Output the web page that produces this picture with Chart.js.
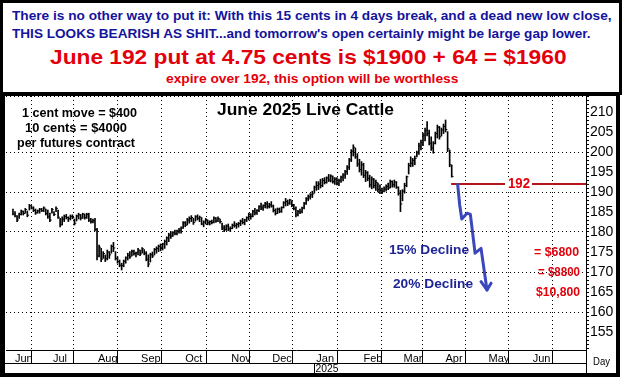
<!DOCTYPE html>
<html>
<head>
<meta charset="utf-8">
<script src="https://cdn.jsdelivr.net/npm/chart.js@4.4.1/dist/chart.umd.min.js"></script>
<style>
  body { margin: 0; background: #fff; font-family: "Liberation Sans", Arial, sans-serif; }
  #wrap { position: relative; width: 622px; height: 384px; overflow: hidden; }
  #chart { position: absolute; left: 0; top: 0; }
  #hdr { position: absolute; left: 0; top: 0; width: 622px; height: 95px; box-sizing: border-box; border: 3px solid #000; background: #fff; }
  #frame { position: absolute; left: 0; top: 93px; width: 620px; height: 284px; box-sizing: border-box; border-style: solid; border-color: #000; border-width: 3px 4px 4px 5px; pointer-events: none; }
  .ln { position: absolute; white-space: nowrap; font-weight: bold; line-height: 1; transform-origin: 0 50%; }
</style>
</head>
<body>
<div id="wrap">
  <canvas id="chart" width="622" height="384"></canvas>
  <div id="frame"></div>
  <div id="hdr"></div>
  <div class="ln" data-w="600" style="left:12px;top:10px;font-size:12.5px;color:#14149c">There is no other way to put it: With this 15 cents in 4 days break, and a dead new low close,</div>
  <div class="ln" data-w="578" style="left:12px;top:28px;font-size:12.5px;color:#14149c">THIS LOOKS BEARISH AS SHIT...and tomorrow's open certainly might be large gap lower.</div>
  <div class="ln" data-w="516" style="left:50px;top:46px;font-size:21px;color:#e3000b">June 192 put at 4.75 cents is $1900 + 64 = $1960</div>
  <div class="ln" data-w="292" style="left:166px;top:73px;font-size:12.5px;color:#e3000b">expire over 192, this option will be worthless</div>
</div>
<script>
// June 2025 live cattle, daily bars (index = trading day from early June 2024)
const highs = [
  185.75, 185.1, 184.1, 184.7, 185.5, 185.25, 185.9, 185.25, 186.9, 186.6,
  186.3, 185.75, 185.5, 185.9, 185.9, 186.3, 185.75, 185.5, 184.7, 185.9,
  185.1, 186.3, 185.5, 183.4, 183.8, 184.25, 184.4, 183.8, 184.25, 184.3,
  183.25, 184.25, 184.7, 184.4, 184.7, 184.5, 184.7, 184.7, 183.4, 183.2,
  183.4, 180.9, 176.75, 175.9, 175.1, 174.25, 175.5, 175.1, 176.75, 177.4,
  175.1, 173.8, 173.0, 172.2, 173.0, 173.8, 174.7, 175.1, 175.5, 175.5,
  175.0, 175.9, 175.5, 176.1, 175.6, 175.1, 174.3, 174.7, 175.0, 175.9,
  176.3, 176.75, 177.0, 177.2, 178.0, 178.8, 179.7, 180.1, 180.1, 180.5,
  180.5, 180.9, 181.3, 182.6, 182.6, 183.4, 183.8, 184.1, 183.4, 184.1,
  184.3, 184.0, 183.6, 182.8, 183.4, 183.0, 182.8, 183.0, 183.8, 183.6,
  183.8, 183.2, 182.2, 181.6, 181.8, 182.0, 181.3, 182.0, 182.6, 182.2,
  182.4, 183.0, 183.4, 183.2, 183.8, 184.7, 184.6, 185.4, 185.9, 185.6,
  186.6, 187.2, 186.8, 187.4, 187.6, 187.2, 187.6, 186.75, 185.8, 186.0,
  186.0, 186.3, 187.6, 188.4, 188.0, 188.2, 187.8, 186.9, 186.3, 185.4,
  185.7, 186.2, 187.4, 188.6, 189.25, 189.6, 190.2, 191.5, 192.6, 192.6,
  193.2, 193.4, 193.6, 193.8, 194.4, 194.3, 194.0, 193.6, 193.6, 193.2,
  194.0, 194.6, 195.4, 196.6, 198.4, 200.6, 201.8, 201.0, 199.6, 198.2,
  197.6, 197.2, 195.4, 195.1, 194.2, 193.8, 193.4, 193.0, 192.2, 191.8,
  191.0, 191.3, 191.8, 192.2, 193.0, 192.8, 193.0, 192.6, 191.3, 190.4,
  190.6, 192.2, 194.0, 197.2, 198.8, 198.4, 199.0, 200.2, 202.2, 203.0,
  204.7, 206.0, 207.6, 205.5, 203.8, 202.6, 205.0, 206.75, 206.4, 206.0,
  207.0, 208.0, 205.1, 200.5, 196.75
];
const lows = [
  184.25, 183.8, 182.6, 183.4, 184.25, 184.25, 184.7, 183.8, 185.5, 185.75,
  185.1, 184.4, 184.7, 184.7, 185.1, 185.1, 184.25, 183.4, 182.6, 184.7,
  184.1, 185.1, 183.4, 181.3, 181.75, 182.6, 183.25, 182.6, 183.0, 183.3,
  181.75, 182.75, 183.25, 183.0, 183.4, 183.2, 183.4, 182.6, 182.2, 182.3,
  180.25, 173.0, 173.8, 172.6, 173.4, 172.6, 173.0, 173.4, 174.7, 175.1,
  173.0, 172.2, 171.3, 170.5, 171.3, 172.2, 173.0, 173.4, 174.0, 174.2,
  173.8, 174.3, 174.1, 174.7, 174.3, 172.8, 171.3, 172.5, 173.6, 174.25,
  174.7, 175.1, 175.3, 175.5, 175.9, 176.75, 177.6, 178.4, 178.9, 179.25,
  179.25, 179.7, 179.7, 180.9, 181.3, 181.75, 182.2, 182.6, 181.9, 182.7,
  183.0, 182.6, 181.8, 181.3, 182.0, 181.8, 181.75, 182.0, 182.3, 182.4,
  182.6, 182.2, 180.6, 180.1, 180.4, 180.3, 180.1, 180.8, 181.2, 180.9,
  181.2, 181.6, 182.0, 181.8, 182.6, 183.0, 183.2, 183.8, 184.25, 184.4,
  185.1, 185.6, 185.4, 186.0, 185.9, 186.0, 186.2, 185.0, 184.25, 184.6,
  184.8, 184.9, 186.0, 186.5, 186.6, 186.9, 186.3, 185.5, 183.8, 184.0,
  184.6, 184.8, 185.8, 186.9, 187.8, 188.2, 188.6, 189.7, 190.4, 190.6,
  191.0, 191.3, 192.0, 192.2, 192.6, 192.5, 192.2, 191.9, 191.8, 191.6,
  192.4, 192.8, 193.4, 194.4, 195.6, 197.6, 199.0, 198.4, 196.4, 195.0,
  194.2, 193.6, 192.6, 192.8, 191.2, 190.8, 191.0, 190.4, 190.0, 189.6,
  189.6, 190.0, 190.2, 190.6, 191.0, 191.2, 191.2, 190.9, 189.2, 185.1,
  187.8, 189.7, 191.3, 194.5, 196.3, 196.4, 196.8, 198.8, 199.4, 200.5,
  201.6, 202.8, 204.0, 201.8, 200.4, 199.7, 202.0, 203.5, 203.2, 204.0,
  204.6, 205.0, 200.1, 196.3, 193.7
];
const closes = [
  184.5, 184.0, 183.0, 184.4, 185.2, 184.6, 185.6, 184.2, 186.6, 186.0,
  185.4, 184.8, 185.3, 185.7, 185.3, 186.0, 184.6, 183.8, 183.0, 185.6,
  184.4, 185.9, 183.7, 181.8, 183.2, 183.9, 183.6, 183.3, 183.9, 183.6,
  182.2, 184.0, 184.3, 183.5, 184.5, 183.6, 184.4, 183.0, 182.6, 182.8,
  180.6, 174.0, 176.2, 173.2, 174.6, 173.3, 175.0, 174.3, 176.4, 176.0,
  173.4, 172.6, 171.7, 171.6, 172.7, 173.5, 174.2, 173.8, 175.2, 174.6,
  174.8, 175.5, 174.5, 175.8, 174.7, 173.2, 172.0, 174.3, 174.0, 175.6,
  175.9, 176.4, 176.2, 177.0, 177.6, 178.5, 179.2, 179.0, 179.8, 179.6,
  180.2, 180.4, 181.0, 182.3, 181.7, 183.0, 183.4, 183.6, 182.4, 183.8,
  183.4, 183.7, 182.0, 182.5, 183.1, 182.3, 182.6, 182.4, 183.5, 182.8,
  183.4, 182.6, 181.0, 180.6, 181.5, 180.8, 180.9, 181.7, 181.6, 181.9,
  182.1, 182.7, 182.4, 183.0, 183.6, 184.4, 183.9, 185.2, 184.8, 185.4,
  186.3, 186.0, 186.6, 187.0, 186.4, 186.8, 186.5, 185.4, 184.6, 185.7,
  185.2, 186.1, 187.3, 187.6, 187.2, 188.0, 186.6, 185.8, 184.3, 185.1,
  185.0, 186.0, 187.1, 188.3, 188.8, 189.3, 189.5, 191.2, 191.6, 192.0,
  191.6, 192.9, 192.4, 193.5, 193.0, 194.0, 192.6, 193.2, 192.2, 192.8,
  193.7, 194.2, 195.1, 196.2, 198.0, 200.2, 201.2, 198.8, 197.0, 195.6,
  196.8, 194.2, 194.8, 193.4, 191.8, 193.2, 191.6, 192.4, 190.6, 190.4,
  190.2, 190.8, 191.4, 191.0, 192.6, 191.8, 192.5, 191.2, 189.7, 187.0,
  190.2, 191.6, 193.8, 196.6, 197.2, 197.9, 198.4, 199.8, 201.5, 202.4,
  204.2, 205.4, 204.6, 202.2, 201.0, 202.2, 204.6, 206.2, 203.8, 205.5,
  206.4, 205.6, 200.8, 196.8, 193.9
];

// month boundaries on the trading-day axis
const monthStarts = [0, 18.5, 40.5, 61.5, 83, 105.5, 125.5, 147, 170, 189.5, 210, 231, 252.5];
const monthNames = ["Jun", "Jul", "Aug", "Sep", "Oct", "Nov", "Dec", "Jan", "Feb", "Mar", "Apr", "May", "Jun"];
const priceLabels = [155, 160, 165, 170, 175, 180, 185, 190, 195, 200, 205, 210];
const gridPrices = [160, 170, 180, 190, 200, 214];

// the 192 strike line and the hand-drawn projection arrow
const strike = 192;
const strikeX = [213.7, 279.5];
const arrowX = [216.9, 217.9, 218.9, 221.5, 223.1, 225.4, 228.3, 231.2];
const arrowY = [191.9, 186.75, 183.25, 184.7, 184.4, 174.7, 175.9, 165.5];
const headX = [228.3, 231.2, 233.2];
const headY = [167.6, 165.5, 167.2];

const FONT = '"Liberation Sans", Arial, sans-serif';
Chart.defaults.font.family = FONT;
Chart.defaults.color = "#000";

// squeeze text to a given width, drawn from its left edge
function fitText(ctx, text, left, cy, w) {
  const m = ctx.measureText(text).width;
  ctx.save();
  ctx.translate(left, cy);
  ctx.scale(w / m, 1);
  ctx.textAlign = "left";
  ctx.textBaseline = "middle";
  ctx.fillText(text, 0, 0);
  ctx.restore();
}

const extras = {
  id: "extras",
  afterDraw(chart) {
    const { ctx, chartArea: a, scales: { x, y } } = chart;
    ctx.save();
    ctx.strokeStyle = "#000";
    ctx.lineWidth = 1;
    ctx.beginPath();
    const row2 = a.bottom + 13.5;
    ctx.moveTo(5, row2); ctx.lineTo(a.right + 1, row2);
    const ax = Math.round(a.right) + 0.5;
    ctx.moveTo(ax, a.bottom); ctx.lineTo(ax, 373);
    const jan = Math.round(x.getPixelForValue(monthStarts[7])) + 0.5;
    ctx.moveTo(jan, row2); ctx.lineTo(jan, 373);
    ctx.stroke();

    ctx.fillStyle = "#000";
    ctx.font = "11px " + FONT;
    fitText(ctx, "2025", jan + 1, 369, 23);
    fitText(ctx, "Day", 593, 362, 17);

    ctx.font = "bold 12px " + FONT;
    fitText(ctx, "1 cent move = $400", 22, 114, 115);
    fitText(ctx, "10 cents = $4000", 25, 129, 102);
    fitText(ctx, "per futures contract", 17, 144, 118);
    ctx.font = "bold 16px " + FONT;
    fitText(ctx, "June 2025 Live Cattle", 217, 111, 177);

    ctx.fillStyle = "#1e2496";
    ctx.font = "bold 13px " + FONT;
    fitText(ctx, "15% Decline", 389, 250, 80);
    fitText(ctx, "20% Decline", 393, 284, 80);

    ctx.fillStyle = "#e3000b";
    ctx.font = "bold 13px " + FONT;
    fitText(ctx, "= $6800", 534, 252, 45);
    fitText(ctx, "= $8800", 538, 272, 42);
    fitText(ctx, "$10,800", 536, 292, 44);

    // strike label sitting on the line
    const sy = y.getPixelForValue(strike);
    ctx.fillStyle = "#fff";
    ctx.fillRect(505, sy - 7, 27, 14);
    ctx.fillStyle = "#e3000b";
    ctx.font = "bold 15px " + FONT;
    fitText(ctx, "192", 508, sy, 22);
    ctx.restore();
  }
};

new Chart(document.getElementById("chart"), {
  type: "bar",
  data: {
    datasets: [
      {
        label: "High-Low",
        data: highs.map((h, i) => ({ x: i, y: [lows[i], h] })),
        backgroundColor: "#000",
        borderWidth: 0,
        barThickness: 1,
        order: 3
      },
      {
        type: "scatter",
        label: "Close",
        data: closes.map((c, i) => ({ x: i + 0.45, y: c })),
        pointStyle: "line",
        pointRadius: 0.9,
        borderColor: "#000",
        borderWidth: 1,
        order: 2
      },
      {
        type: "line",
        label: "Strike",
        data: strikeX.map(v => ({ x: v, y: strike })),
        borderColor: "#b3151b",
        borderWidth: 2,
        pointRadius: 0,
        order: 1
      },
      {
        type: "line",
        label: "Projection",
        data: arrowX.map((v, i) => ({ x: v, y: arrowY[i] })),
        borderColor: "#3a47bd",
        borderWidth: 3,
        pointRadius: 0,
        borderJoinStyle: "round",
        borderCapStyle: "round",
        order: 0
      },
      {
        type: "line",
        label: "Head",
        data: headX.map((v, i) => ({ x: v, y: headY[i] })),
        borderColor: "#3a47bd",
        borderWidth: 3,
        pointRadius: 0,
        borderJoinStyle: "round",
        borderCapStyle: "round",
        order: 0
      }
    ]
  },
  options: {
    responsive: false,
    animation: false,
    devicePixelRatio: 1,
    layout: { padding: { top: 96, left: 6, right: 0, bottom: 0 } },
    plugins: { legend: { display: false }, tooltip: { enabled: false } },
    scales: {
      x: {
        type: "linear",
        offset: false,
        min: -3.4,
        max: 279.5,
        afterBuildTicks: s => { s.ticks = monthStarts.map(v => ({ value: v })); },
        afterFit: s => { s.height = 34; },
        ticks: {
          autoSkip: false,
          maxRotation: 0,
          align: "start",
          labelOffset: 2,
          padding: -11,
          font: { size: 11 },
          callback: (v, i) => monthNames[i]
        },
        grid: {
          color: c => (c.index === 0 ? "rgba(0,0,0,0)" : "#000"),
          tickColor: "#000",
          tickLength: 13
        },
        border: { color: "#000", dash: [1, 3] }
      },
      y: {
        type: "linear",
        position: "right",
        min: 150.5,
        max: 214,
        afterBuildTicks: s => {
          const t = [];
          for (let v = 151; v <= 214; v++) t.push({ value: v });
          s.ticks = t;
        },
        afterFit: s => { s.width = 36; },
        ticks: {
          autoSkip: false,
          padding: 1,
          font: { size: 14 },
          callback: v => (priceLabels.includes(v) ? String(v) : "")
        },
        grid: {
          color: c => (c.tick && gridPrices.includes(c.tick.value) ? "#000" : "rgba(0,0,0,0)"),
          tickColor: "#000",
          tickLength: 3
        },
        border: { color: "#000", dash: [1, 3] }
      }
    }
  },
  plugins: [extras]
});

// header lines are squeezed to the widths of the original
document.querySelectorAll(".ln").forEach(el => {
  const w = +el.dataset.w;
  el.style.transform = "scaleX(" + (w / el.offsetWidth) + ")";
});
</script>
</body>
</html>
